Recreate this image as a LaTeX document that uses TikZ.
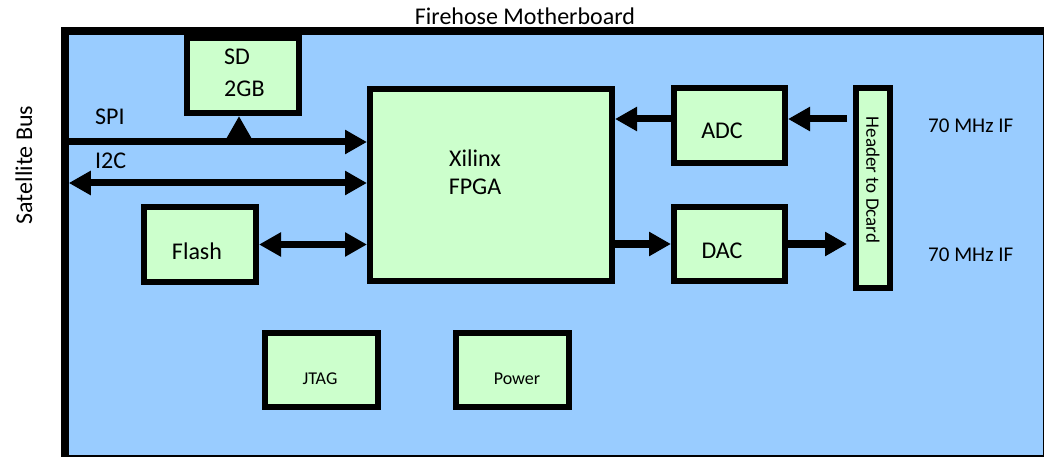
\documentclass[tikz,border=0pt]{standalone}
\usepackage{fontspec}
\setmainfont{Carlito}
\usetikzlibrary{arrows.meta}
\definecolor{board}{HTML}{99CCFF}
\definecolor{chip}{HTML}{CCFFCC}
\tikzset{
  box/.style={draw=black, fill=chip, line width=6pt, inner sep=0pt, minimum width=112pt, minimum height=75pt},
  txt/.style={font=\fontsize{24}{28}\selectfont, inner sep=0pt},
  iftxt/.style={font=\fontsize{21}{25}\selectfont, inner sep=0pt},
  small/.style={font=\fontsize{18}{22}\selectfont, inner sep=0pt},
  arr/.style={line width=7pt, -{Triangle[length=22pt,width=23pt]}},
  darr/.style={line width=7pt, {Triangle[length=22pt,width=23pt]}-{Triangle[length=22pt,width=23pt]}},
}
\begin{document}
\begin{tikzpicture}[x=1pt, y=-1pt]
\useasboundingbox (0,0) rectangle (1044,457);
% board
\draw[fill=board, line width=7.5pt] (65,31) rectangle (1047,458.5);
% titles
\node[txt, anchor=base] (title) at (525,25) {Firehose Motherboard};
\node[txt, rotate=90, anchor=base] (sat) at (32,165) {Satellite Bus};
% boxes
\node[box] (sd) at (243,75.5) {};
\node[txt, align=left, anchor=base west] (sdtxt) at (224,97) {SD\\[4pt]2GB};
\node[box, minimum width=242pt, minimum height=192pt] (fpga) at (491,185) {};
\node[txt, align=center] (fpgatxt) at (475,172) {Xilinx\\FPGA};
\node[box, minimum width=111pt] (adc) at (729.5,125.5) {};
\node[txt] (adctxt) at (722,131) {ADC};
\node[box, minimum width=111pt, minimum height=74pt] (dac) at (729.5,244) {};
\node[txt] (dactxt) at (722,251) {DAC};
\node[box, minimum width=34pt, minimum height=200pt] (hdr) at (873,188) {};
\node[font=\fontsize{19}{22}\selectfont, inner sep=0pt, rotate=-90] (hdrtxt) at (873,180) {Header to Dcard};
\node[box] (flash) at (200,244.5) {};
\node[txt] (flashtxt) at (197,251) {Flash};
\node[box, minimum width=113pt, minimum height=74pt] (jtag) at (321.5,370) {};
\node[small] (jtagtxt) at (320,379) {JTAG};
\node[box, minimum width=113pt, minimum height=74pt] (power) at (512.5,370) {};
\node[small] (powertxt) at (517,379) {Power};
% labels
\node[txt, anchor=west] (spi) at (95,117) {SPI};
\node[txt, anchor=west] (i2c) at (95,161) {I2C};
\node[iftxt, anchor=west] (if1) at (928,126) {70 MHz IF};
\node[iftxt, anchor=west] (if2) at (928,255) {70 MHz IF};
% connector ends
\coordinate (spiL) at (68.75,142);
\coordinate (i2cL) at (68.75,183);
\coordinate (sdtap) at (239,142);
% connectors
\draw[arr] (spiL) -- (fpga.west |- spiL);
\draw[darr] (i2cL) -- (fpga.west |- i2cL);
\draw[arr] (sdtap) -- (sd.south -| sdtap);
\draw[darr] (flash.east) -- (fpga.west |- flash.east);
\draw[arr, shorten <=6pt] (hdr.west |- 0,119) -- (adc.east |- 0,119);
\draw[arr] (adc.west |- 0,119) -- (fpga.east |- 0,119);
\draw[arr] (fpga.east |- 0,244) -- (dac.west |- 0,244);
\draw[arr, shorten >=6pt] (dac.east |- 0,244) -- (hdr.west |- 0,244);
\end{tikzpicture}
\end{document}
